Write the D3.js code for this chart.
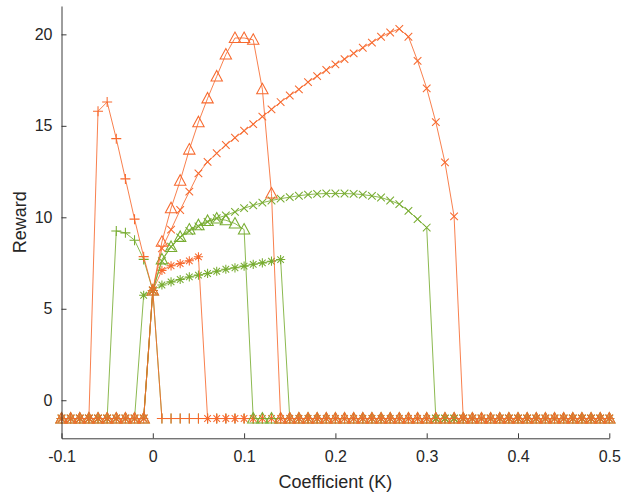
<!DOCTYPE html>
<html>
<head>
<meta charset="utf-8">
<script src="https://cdn.jsdelivr.net/npm/d3@7"></script>
<style>
  html, body { margin: 0; padding: 0; background: #fff; }
  svg { display: block; }
  text { font-family: "Liberation Sans", Arial, Helvetica, sans-serif; fill: #262626; }
</style>
</head>
<body>
<svg id="chart" width="621" height="493"></svg>
<script>
// Coefficient grid (K)
const coefficient = [
  -0.10, -0.09, -0.08, -0.07, -0.06, -0.05, -0.04, -0.03, -0.02, -0.01,
   0.00,  0.01,  0.02,  0.03,  0.04,  0.05,  0.06,  0.07,  0.08,  0.09,
   0.10,  0.11,  0.12,  0.13,  0.14,  0.15,  0.16,  0.17,  0.18,  0.19,
   0.20,  0.21,  0.22,  0.23,  0.24,  0.25,  0.26,  0.27,  0.28,  0.29,
   0.30,  0.31,  0.32,  0.33,  0.34,  0.35,  0.36,  0.37,  0.38,  0.39,
   0.40,  0.41,  0.42,  0.43,  0.44,  0.45,  0.46,  0.47,  0.48,  0.49,
   0.50
];

// Reward per coefficient, one array per run
const greenPlus = [
  -1, -1, -1, -1, -1, -1, 9.25, 9.15, 8.75, 7.7,
  6.0, -1, -1, -1, -1, -1, -1, -1, -1, -1,
  -1, -1, -1, -1, -1, -1, -1, -1, -1, -1,
  -1, -1, -1, -1, -1, -1, -1, -1, -1, -1,
  -1, -1, -1, -1, -1, -1, -1, -1, -1, -1,
  -1, -1, -1, -1, -1, -1, -1, -1, -1, -1,
  -1
];
const orangePlus = [
  -1, -1, -1, -1, 15.8, 16.3, 14.3, 12.1, 9.9, 7.85,
  6.0, -1, -1, -1, -1, -1, -1, -1, -1, -1,
  -1, -1, -1, -1, -1, -1, -1, -1, -1, -1,
  -1, -1, -1, -1, -1, -1, -1, -1, -1, -1,
  -1, -1, -1, -1, -1, -1, -1, -1, -1, -1,
  -1, -1, -1, -1, -1, -1, -1, -1, -1, -1,
  -1
];
const greenStar = [
  -1, -1, -1, -1, -1, -1, -1, -1, -1, 5.74,
  6.0, 6.3, 6.47, 6.6, 6.74, 6.84, 6.93, 7.05, 7.16, 7.24,
  7.33, 7.43, 7.51, 7.6, 7.69, -1, -1, -1, -1, -1,
  -1, -1, -1, -1, -1, -1, -1, -1, -1, -1,
  -1, -1, -1, -1, -1, -1, -1, -1, -1, -1,
  -1, -1, -1, -1, -1, -1, -1, -1, -1, -1,
  -1
];
const orangeStar = [
  -1, -1, -1, -1, -1, -1, -1, -1, -1, -1,
  6.0, 7.1, 7.35, 7.47, 7.62, 7.84, -1, -1, -1, -1,
  -1, -1, -1, -1, -1, -1, -1, -1, -1, -1,
  -1, -1, -1, -1, -1, -1, -1, -1, -1, -1,
  -1, -1, -1, -1, -1, -1, -1, -1, -1, -1,
  -1, -1, -1, -1, -1, -1, -1, -1, -1, -1,
  -1
];
const greenCross = [
  -1, -1, -1, -1, -1, -1, -1, -1, -1, -1,
  6.0, 7.6, 8.4, 8.9, 9.25, 9.5, 9.75, 9.95, 10.1, 10.3,
  10.5, 10.65, 10.8, 10.92, 11.02, 11.1, 11.18, 11.24, 11.28, 11.3,
  11.3, 11.3, 11.28, 11.24, 11.17, 11.08, 10.92, 10.72, 10.35, 9.9,
  9.44, -1, -1, -1, -1, -1, -1, -1, -1, -1,
  -1, -1, -1, -1, -1, -1, -1, -1, -1, -1,
  -1
];
const orangeCross = [
  -1, -1, -1, -1, -1, -1, -1, -1, -1, -1,
  6.0, 8.3, 9.33, 10.4, 11.4, 12.4, 13.03, 13.5, 13.95, 14.35,
  14.73, 15.09, 15.5, 15.9, 16.3, 16.66, 16.99, 17.39, 17.72, 18.05,
  18.36, 18.65, 18.96, 19.27, 19.55, 19.87, 20.1, 20.3, 19.87, 18.55,
  17.05, 15.2, 13.0, 10.05, -1, -1, -1, -1, -1, -1,
  -1, -1, -1, -1, -1, -1, -1, -1, -1, -1,
  -1
];
const greenTriangle = [
  -1, -1, -1, -1, -1, -1, -1, -1, -1, -1,
  6.0, 7.7, 8.38, 8.93, 9.33, 9.57, 9.8, 9.93, 9.84, 9.66,
  9.33, -1, -1, -1, -1, -1, -1, -1, -1, -1,
  -1, -1, -1, -1, -1, -1, -1, -1, -1, -1,
  -1, -1, -1, -1, -1, -1, -1, -1, -1, -1,
  -1, -1, -1, -1, -1, -1, -1, -1, -1, -1,
  -1
];
const orangeTriangle = [
  -1, -1, -1, -1, -1, -1, -1, -1, -1, -1,
  6.0, 8.66, 10.5, 12.0, 13.7, 15.2, 16.5, 17.7, 18.9, 19.8,
  19.8, 19.7, 17.0, 11.3, -1, -1, -1, -1, -1, -1,
  -1, -1, -1, -1, -1, -1, -1, -1, -1, -1,
  -1, -1, -1, -1, -1, -1, -1, -1, -1, -1,
  -1, -1, -1, -1, -1, -1, -1, -1, -1, -1,
  -1
];

const xTicks = [-0.1, 0, 0.1, 0.2, 0.3, 0.4, 0.5];
const yTicks = [0, 5, 10, 15, 20];
const xTickLabels = ["-0.1", "0", "0.1", "0.2", "0.3", "0.4", "0.5"];
const yTickLabels = ["0", "5", "10", "15", "20"];

const GREEN = "#77ac30";
const ORANGE = "#f7692e";

// plotting order: later runs are drawn on top
const runs = [
  { values: greenPlus,      color: GREEN,  marker: "plus" },
  { values: orangePlus,     color: ORANGE, marker: "plus" },
  { values: greenStar,      color: GREEN,  marker: "star" },
  { values: orangeStar,     color: ORANGE, marker: "star" },
  { values: greenCross,     color: GREEN,  marker: "cross" },
  { values: orangeCross,    color: ORANGE, marker: "cross" },
  { values: greenTriangle,  color: GREEN,  marker: "triangle" },
  { values: orangeTriangle, color: ORANGE, marker: "triangle" }
];

const svg = d3.select("#chart");
const x = d3.scaleLinear().domain([-0.1, 0.5]).range([61.5, 609.3]);
const y = d3.scaleLinear().domain([-2.08, 21.55]).range([438.3, 6]);

// marker outlines drawn as stroked paths
const markerPath = {
  plus: "M-5,0H5M0,-5V5",
  cross: "M-3.8,-3.8L3.8,3.8M-3.8,3.8L3.8,-3.8",
  star: "M-4.6,0H4.6M0,-4.6V4.6M-3.3,-3.3L3.3,3.3M-3.3,3.3L3.3,-3.3",
  triangle: "M0,-6L5.7,4.5H-5.7Z"
};

const line = d3.line()
  .x((d, i) => x(coefficient[i]))
  .y(d => y(d));

const plot = svg.append("g");
runs.forEach(run => {
  const g = plot.append("g");
  g.append("path")
    .attr("d", line(run.values))
    .attr("fill", "none")
    .attr("stroke", run.color)
    .attr("stroke-width", 0.85);
  g.selectAll("path.mk")
    .data(run.values)
    .join("path")
    .attr("class", "mk")
    .attr("transform", (d, i) => `translate(${x(coefficient[i])},${y(d)})`)
    .attr("d", markerPath[run.marker])
    .attr("fill", "none")
    .attr("stroke", run.color)
    .attr("stroke-width", 1.05);
});

// axes (ticks point inward)
const xAxis = d3.axisBottom(x)
  .tickValues(xTicks)
  .tickFormat((d, i) => xTickLabels[i])
  .tickSizeInner(-5)
  .tickSizeOuter(0)
  .tickPadding(12);
const yAxis = d3.axisLeft(y)
  .tickValues(yTicks)
  .tickFormat((d, i) => yTickLabels[i])
  .tickSizeInner(-5)
  .tickSizeOuter(0)
  .tickPadding(9);

const gx = svg.append("g").attr("transform", "translate(0,438.3)").call(xAxis);
const gy = svg.append("g").attr("transform", "translate(61.5,0)").call(yAxis);
[gx, gy].forEach(g => {
  g.select(".domain").attr("stroke", "#262626").attr("stroke-width", 0.9);
  g.selectAll(".tick line").attr("stroke", "#262626").attr("stroke-width", 0.9);
  g.selectAll(".tick text")
    .attr("font-size", 16)
    .attr("font-family", "'Liberation Sans', Arial, Helvetica, sans-serif")
    .attr("fill", "#262626");
});

svg.append("text")
  .attr("x", (x.range()[0] + x.range()[1]) / 2)
  .attr("y", 487.5)
  .attr("text-anchor", "middle")
  .attr("font-size", 18)
  .text("Coefficient (K)");

svg.append("text")
  .attr("transform", `translate(25.5,${(y.range()[0] + y.range()[1]) / 2}) rotate(-90)`)
  .attr("text-anchor", "middle")
  .attr("font-size", 18)
  .text("Reward");
</script>
</body>
</html>
